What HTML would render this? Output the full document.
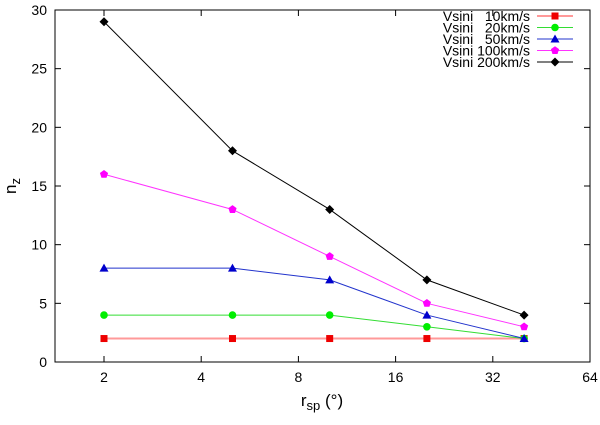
<!DOCTYPE html>
<html><head><meta charset="utf-8"><style>
body{margin:0;background:#fff;}
svg{font-family:"Liberation Sans",sans-serif;}
</style></head><body>
<svg id="chart" width="600" height="420">
<g id="axes"></g><g id="series"></g><g id="legend"></g>
</svg>
<script>
const xValues=[2,5,10,20,40];
const xTicks=[2,4,8,16,32,64];
const yTicks=[0,5,10,15,20,25,30];
const seriesNames=["Vsini   10km/s","Vsini   20km/s","Vsini   50km/s","Vsini 100km/s","Vsini 200km/s"];
const v10=[2,2,2,2,2];
const v20=[4,4,4,3,2];
const v50=[8,8,7,4,2];
const v100=[16,13,9,5,3];
const v200=[29,18,13,7,4];
const L=55,R=590,T=10,B=362;
const ns="http://www.w3.org/2000/svg";
function sx(v){return 104+Math.log2(v/2)*97.2;}
function sy(v){return B-(v/30)*(B-T);}
function mk(tag,attrs,parent){const e=document.createElementNS(ns,tag);for(const k in attrs)e.setAttribute(k,attrs[k]);parent.appendChild(e);return e;}
const axes=document.getElementById('axes');
const frame=mk('rect',{x:L,y:T,width:R-L,height:B-T,fill:'none',stroke:'#000','stroke-width':1},axes);


xTicks.forEach(t=>{const x=sx(t);
 mk('line',{x1:x,y1:B,x2:x,y2:B-6,stroke:'#000'},axes);
 mk('line',{x1:x,y1:T,x2:x,y2:T+6,stroke:'#000'},axes);
 const tx=mk('text',{x:x,y:B+20,'text-anchor':'middle','font-size':14},axes);tx.textContent=t;
 
 
});
yTicks.forEach(t=>{const y=sy(t);
 mk('line',{x1:L,y1:y,x2:L+6,y2:y,stroke:'#000'},axes);
 mk('line',{x1:R,y1:y,x2:R-6,y2:y,stroke:'#000'},axes);
 const tx=mk('text',{x:L-8,y:y+5,'text-anchor':'end','font-size':14},axes);tx.textContent=t;
 
 
});
const xt=mk('text',{x:322,y:406,'text-anchor':'middle','font-size':17},axes);
xt.innerHTML='r<tspan font-size="13" dy="4">sp</tspan><tspan dy="-4"> (°)</tspan>';


const yt=mk('text',{x:0,y:0,'text-anchor':'middle','font-size':17,transform:'translate(16,186) rotate(-90)'},axes);
yt.innerHTML='n<tspan font-size="13" dy="4">z</tspan>';


const data=[v10,v20,v50,v100,v200];
const lineCols=['#ff9999','#33dd33','#2233cc','#ff33ff','#000'];
const markCols=['#ee0000','#00ee00','#0000cc','#ff00ff','#000'];
const shapes=['square','circle','triangle','pentagon','diamond'];
function marker(shape,x,y,c,parent){
 let e;
 if(shape==='square')e=mk('rect',{x:x-3.5,y:y-3.5,width:7,height:7,fill:c},parent);
 else if(shape==='circle')e=mk('circle',{cx:x,cy:y,r:3.8,fill:c},parent);
 else if(shape==='triangle')e=mk('polygon',{points:`${x},${y-4.5} ${x+4.5},${y+3.5} ${x-4.5},${y+3.5}`,fill:c},parent);
 else if(shape==='pentagon'){let p=[];for(let i=0;i<5;i++){const a=-Math.PI/2+i*2*Math.PI/5;p.push((x+4.3*Math.cos(a))+','+(y+4.3*Math.sin(a)));}e=mk('polygon',{points:p.join(' '),fill:c},parent);}
 else e=mk('polygon',{points:`${x},${y-4.5} ${x+4.5},${y} ${x},${y+4.5} ${x-4.5},${y}`,fill:c},parent);
 return e;
}
const sg=document.getElementById('series');const lg=document.getElementById('legend');
data.forEach((vals,i)=>{
 const g=mk('g',{},sg);
 
 
 const pl=mk('polyline',{points:vals.map((v,j)=>sx(xValues[j])+','+sy(v)).join(' '),fill:'none',stroke:lineCols[i],'stroke-width':i===0?2:1},g);
 
 
 vals.forEach((v,j)=>{const m=marker(shapes[i],sx(xValues[j]),sy(v),markCols[i],g);
  
  });
 const ly=16+i*11.5;
 const le=mk('g',{},lg);
 
 
 const t=mk('text',{x:530,y:ly+5,'text-anchor':'end','font-size':14},le);t.textContent=seriesNames[i];
 t.style.whiteSpace='pre';
 mk('line',{x1:537,y1:ly,x2:573,y2:ly,stroke:lineCols[i],'stroke-width':i===0?2:1},le);
 marker(shapes[i],555,ly,markCols[i],le);
});
</script>
</body></html>
